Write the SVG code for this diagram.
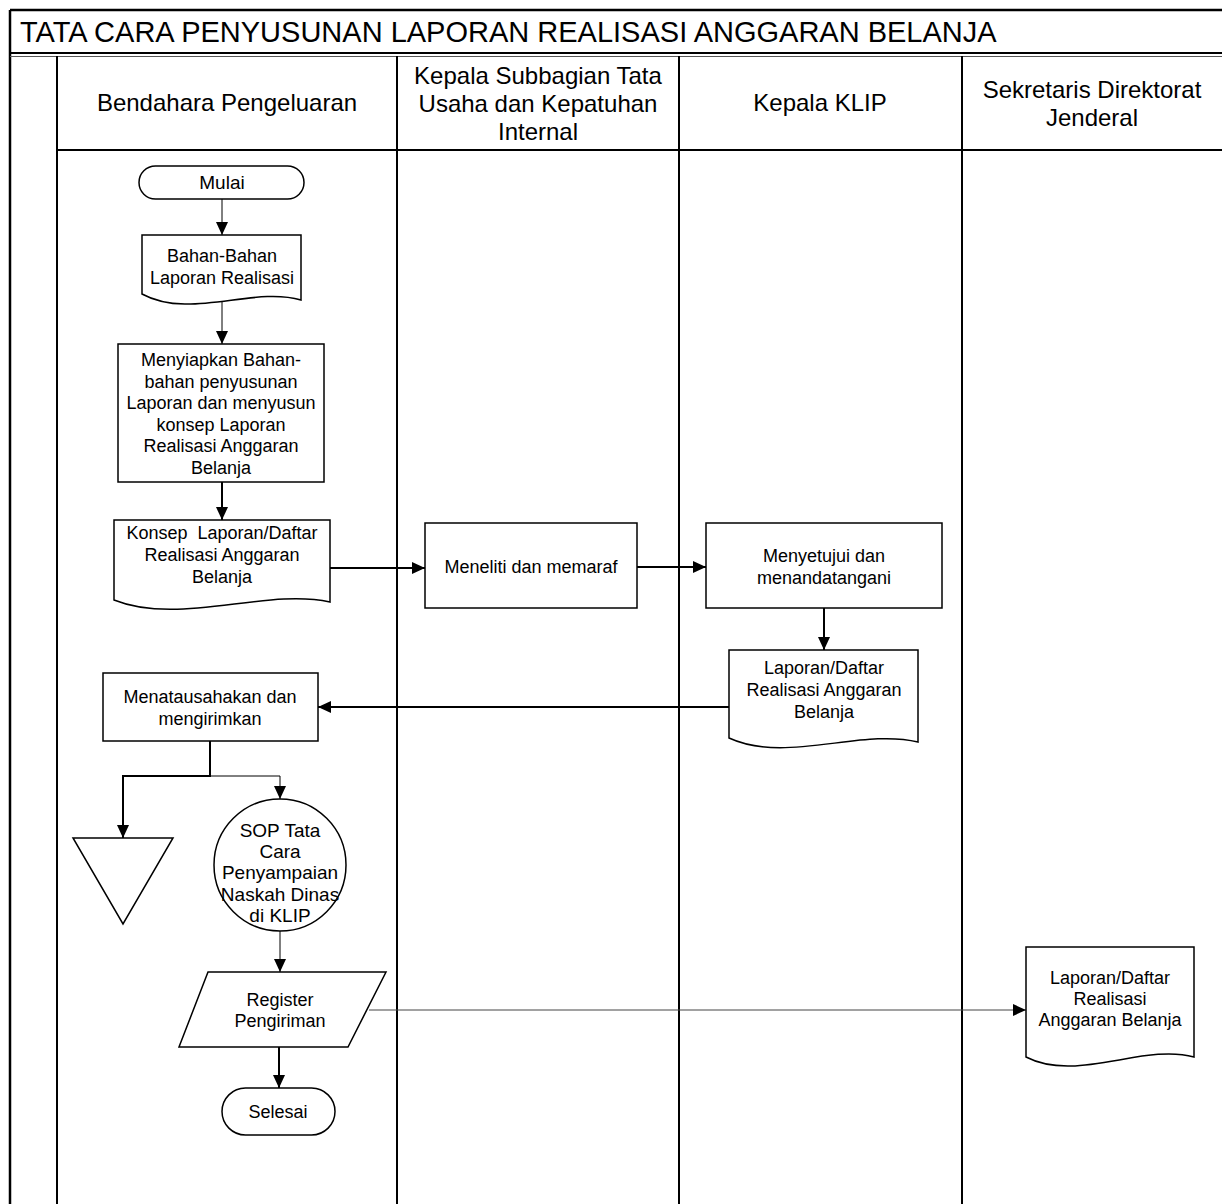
<svg xmlns="http://www.w3.org/2000/svg" width="1222" height="1204" viewBox="0 0 1222 1204">
<style>
.frame{stroke:#000;stroke-width:2.5;fill:none}
.lane{stroke:#000;stroke-width:2;fill:none}
.node{fill:#fff;stroke:#000;stroke-width:1.5}
.t{font-family:"Liberation Sans",Arial,Helvetica,sans-serif;font-size:18px;text-anchor:middle;fill:#000}
.hdr{font-size:24px}
.title{font-size:29px;text-anchor:start}
.sop{font-size:19px}
.c1{stroke:#000;stroke-width:1;fill:none}
.c2{stroke:#000;stroke-width:2;fill:none}
.cg{stroke:#444;stroke-width:1;fill:none}
</style>
<defs>
<marker id="ah" viewBox="0 0 13 12" refX="13" refY="6" markerWidth="13" markerHeight="12" orient="auto" markerUnits="userSpaceOnUse">
<path d="M0,0 L13,6 L0,12 Z" fill="#000"/>
</marker>
</defs>
<rect width="1222" height="1204" fill="#fff"/>
<g id="frame">
<line class="frame" x1="10" y1="10" x2="1222" y2="10"/>
<line class="frame" x1="10" y1="10" x2="10" y2="1204"/>
<line class="lane" x1="10" y1="53" x2="1222" y2="53"/>
<line x1="10" y1="56.5" x2="1222" y2="56.5" stroke="#555" stroke-width="1"/>
<line class="lane" x1="57" y1="56" x2="57" y2="1204"/>
<line class="lane" x1="397" y1="56" x2="397" y2="1204"/>
<line class="lane" x1="679" y1="56" x2="679" y2="1204"/>
<line class="lane" x1="962" y1="56" x2="962" y2="1204"/>
<line class="lane" x1="57" y1="150" x2="1222" y2="150"/>
<text class="t title" x="20" y="42">TATA CARA PENYUSUNAN LAPORAN REALISASI ANGGARAN BELANJA</text>
<text class="t hdr" x="227" y="111">Bendahara Pengeluaran</text>
<text class="t hdr" x="538" y="84">Kepala Subbagian Tata</text>
<text class="t hdr" x="538" y="112">Usaha dan Kepatuhan</text>
<text class="t hdr" x="538" y="140">Internal</text>
<text class="t hdr" x="820" y="111">Kepala KLIP</text>
<text class="t hdr" x="1092" y="98">Sekretaris Direktorat</text>
<text class="t hdr" x="1092" y="126">Jenderal</text>
</g>
<g id="connectors">
<line class="c1" x1="222" y1="199" x2="222" y2="235" marker-end="url(#ah)"/>
<line class="c1" x1="222" y1="300" x2="222" y2="344" marker-end="url(#ah)"/>
<line class="c2" x1="222" y1="482" x2="222" y2="520" marker-end="url(#ah)"/>
<line class="c2" x1="330" y1="568" x2="425" y2="568" marker-end="url(#ah)"/>
<line class="c2" x1="637" y1="567" x2="706" y2="567" marker-end="url(#ah)"/>
<line class="c2" x1="824" y1="608" x2="824" y2="650" marker-end="url(#ah)"/>
<line class="c2" x1="729" y1="707" x2="318" y2="707" marker-end="url(#ah)"/>
<polyline class="c2" points="210,741 210,776 123,776 123,838" marker-end="url(#ah)"/>
<polyline class="c1" points="210,776 280,776 280,799" marker-end="url(#ah)"/>
<line class="c1" x1="280" y1="931" x2="280" y2="972" marker-end="url(#ah)"/>
<line class="cg" x1="369" y1="1010" x2="1026" y2="1010" marker-end="url(#ah)"/>
<line class="c2" x1="279" y1="1047" x2="279" y2="1088" marker-end="url(#ah)"/>
</g>
<g id="mulai">
<rect class="node" x="139" y="166" width="165" height="33" rx="16.5"/>
<text class="t" x="222" y="189" style="font-size:19px">Mulai</text>
</g>
<g id="bahan">
<path class="node" d="M142,235 H301 V300 C253.3,286 189.7,320 142,294 Z"/>
<text class="t" x="222" y="262">Bahan-Bahan</text>
<text class="t" x="222" y="284">Laporan Realisasi</text>
</g>
<g id="menyiapkan">
<rect class="node" x="118" y="344" width="206" height="138"/>
<text class="t" x="221" y="366">Menyiapkan Bahan-</text>
<text class="t" x="221" y="387.6">bahan penyusunan</text>
<text class="t" x="221" y="409.2">Laporan dan menyusun</text>
<text class="t" x="221" y="430.8">konsep Laporan</text>
<text class="t" x="221" y="452.4">Realisasi Anggaran</text>
<text class="t" x="221" y="474">Belanja</text>
</g>
<g id="konsep">
<path class="node" d="M114,520 H330 V602 C265.2,588 178.8,626 114,600 Z"/>
<text class="t" x="222" y="539" xml:space="preserve">Konsep  Laporan/Daftar</text>
<text class="t" x="222" y="561">Realisasi Anggaran</text>
<text class="t" x="222" y="583">Belanja</text>
</g>
<g id="meneliti">
<rect class="node" x="425" y="523" width="212" height="85"/>
<text class="t" x="531" y="573">Meneliti dan memaraf</text>
</g>
<g id="menyetujui">
<rect class="node" x="706" y="523" width="236" height="85"/>
<text class="t" x="824" y="562">Menyetujui dan</text>
<text class="t" x="824" y="584">menandatangani</text>
</g>
<g id="laporan-klip">
<path class="node" d="M729,650 H918 V742 C861.3,728 785.7,764 729,738 Z"/>
<text class="t" x="824" y="674">Laporan/Daftar</text>
<text class="t" x="824" y="696">Realisasi Anggaran</text>
<text class="t" x="824" y="718">Belanja</text>
</g>
<g id="menatausahakan">
<rect class="node" x="103" y="673" width="215" height="68"/>
<text class="t" x="210" y="703">Menatausahakan dan</text>
<text class="t" x="210" y="725">mengirimkan</text>
</g>
<g id="arsip">
<polygon class="node" points="73,838 173,838 123,924"/>
</g>
<g id="sop">
<circle class="node" cx="280" cy="865" r="66"/>
<text class="t sop" x="280" y="837">SOP Tata</text>
<text class="t sop" x="280" y="858">Cara</text>
<text class="t sop" x="280" y="879">Penyampaian</text>
<text class="t sop" x="280" y="901">Naskah Dinas</text>
<text class="t sop" x="280" y="922">di KLIP</text>
</g>
<g id="register">
<polygon class="node" points="208,972 386,972 348,1047 179,1047"/>
<text class="t" x="280" y="1006">Register</text>
<text class="t" x="280" y="1027">Pengiriman</text>
</g>
<g id="selesai">
<rect class="node" x="222" y="1088" width="113" height="47" rx="23.5"/>
<text class="t" x="278" y="1118">Selesai</text>
</g>
<g id="laporan-sekretaris">
<path class="node" d="M1026,947 H1194 V1057 C1143.6,1043 1076.4,1083 1026,1057 Z"/>
<text class="t" x="1110" y="984">Laporan/Daftar</text>
<text class="t" x="1110" y="1005">Realisasi</text>
<text class="t" x="1110" y="1026">Anggaran Belanja</text>
</g>
</svg>
